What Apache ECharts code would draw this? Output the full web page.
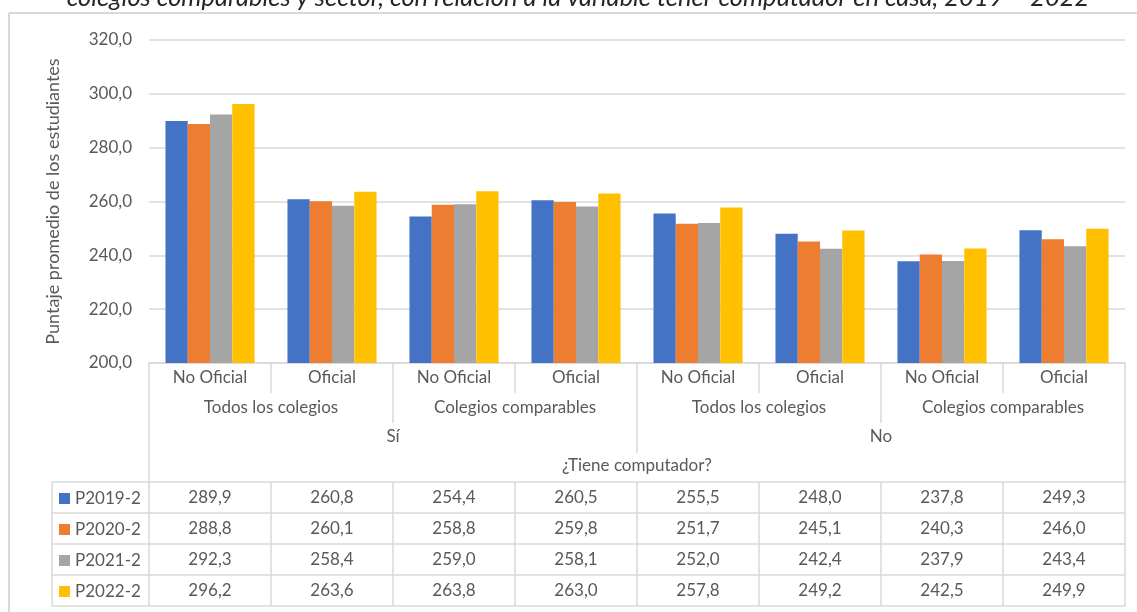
<!DOCTYPE html>
<html>
<head>
<meta charset="utf-8">
<script src="https://cdn.jsdelivr.net/npm/echarts@6/dist/echarts.min.js"></script>
<style>
  html, body { margin: 0; padding: 0; background: #ffffff; }
  #chart { width: 1137px; height: 612px; }
</style>
</head>
<body>
<div id="chart"></div>
<script>
// Hierarchical category labels (innermost first)
const sectors = ['No Oficial', 'Oficial', 'No Oficial', 'Oficial', 'No Oficial', 'Oficial', 'No Oficial', 'Oficial'];
const schoolGroups = ['Todos los colegios', 'Colegios comparables', 'Todos los colegios', 'Colegios comparables'];
const hasComputer = ['Sí', 'No'];
const outerLabel = ['¿Tiene computador?'];

// Series names and values
const seriesNames = ['P2019-2', 'P2020-2', 'P2021-2', 'P2022-2'];
const p2019 = [289.9, 260.8, 254.4, 260.5, 255.5, 248.0, 237.8, 249.3];
const p2020 = [288.8, 260.1, 258.8, 259.8, 251.7, 245.1, 240.3, 246.0];
const p2021 = [292.3, 258.4, 259.0, 258.1, 252.0, 242.4, 237.9, 243.4];
const p2022 = [296.2, 263.6, 263.8, 263.0, 257.8, 249.2, 242.5, 249.9];
const seriesValues = [p2019, p2020, p2021, p2022];
const colors = ['#4472C4', '#ED7D31', '#A5A5A5', '#FFC000'];

// Y axis ticks
const yMin = 200, yMax = 320, yStep = 20;

const titleText = 'colegios comparables y sector, con relación a la variable tener computador en casa, 2019 – 2022';
const yName = 'Puntaje promedio de los estudiantes';

const FONT = 'Lato';
const TXT = '#595959';
const LINE = '#d9d9d9';
const FS = 17;

const fmt = v => v.toFixed(1).replace('.', ',');

// Grid geometry
const gridLeft = 149, gridRight = 12, gridTop = 40, gridBottom = 249;

function levelAxis(data, offset, tickLen, margin, showLine) {
  return {
    type: 'category',
    gridIndex: 0,
    position: 'bottom',
    offset: offset,
    data: data,
    boundaryGap: true,
    axisLine: { show: showLine, lineStyle: { color: LINE, width: 1.5 } },
    axisTick: { show: true, interval: 0, length: tickLen, lineStyle: { color: LINE, width: 1.5 } },
    axisLabel: {
      interval: 0, margin: margin, color: TXT, fontFamily: FONT, fontSize: FS, lineHeight: 20
    },
    splitLine: { show: false }
  };
}

const xAxes = [
  levelAxis(sectors, 0, 30, 5, true),
  levelAxis(schoolGroups, 30, 30, 4.5, false),
  levelAxis(hasComputer, 60, 30, 4, false),
  levelAxis(outerLabel, 90, 29, 3, false)
];
// Data table rows under the axis, one category axis per series
const tableOffsets = [119, 150, 181, 212];
seriesValues.forEach((vals, i) => {
  xAxes.push(levelAxis(vals.map(fmt), tableOffsets[i], 31, 5.5, true));
});
// Closing line of the table
xAxes.push({
  type: 'category', gridIndex: 0, position: 'bottom', offset: 243,
  data: sectors, axisLine: { show: true, lineStyle: { color: LINE, width: 1.5 } },
  axisTick: { show: false }, axisLabel: { show: false }
});

const chart = echarts.init(document.getElementById('chart'), null, { renderer: 'canvas' });

const tableLeft = 52, tableRows = [482, 513, 544, 575, 606];
const graphics = [
  // chart frame
  { type: 'line', shape: { x1: 9, y1: 13, x2: 1137, y2: 13 }, style: { stroke: LINE, lineWidth: 2 } },
  { type: 'line', shape: { x1: 9, y1: 13, x2: 9, y2: 612 }, style: { stroke: LINE, lineWidth: 2 } },
  // legend column of the data table
  { type: 'line', shape: { x1: tableLeft, y1: tableRows[0], x2: tableLeft, y2: tableRows[4] }, style: { stroke: LINE, lineWidth: 1.5 } },
  // title (partially above the canvas)
  {
    type: 'text', x: 578, y: -2,
    style: {
      text: titleText, fill: '#262626', font: 'italic 25.5px Lato',
      textAlign: 'center', textVerticalAlign: 'middle'
    }
  }
];
tableRows.forEach(y => {
  graphics.push({ type: 'line', shape: { x1: tableLeft, y1: y, x2: gridLeft, y2: y }, style: { stroke: LINE, lineWidth: 1.5 } });
});

chart.setOption({
  animation: false,
  backgroundColor: '#ffffff',
  color: colors,
  textStyle: { fontFamily: FONT },
  grid: { left: gridLeft, right: gridRight, top: gridTop, bottom: gridBottom, containLabel: false },
  legend: {
    orient: 'vertical',
    left: 59, top: 490,
    padding: 0,
    itemWidth: 11, itemHeight: 11, itemGap: 14,
    icon: 'rect',
    textStyle: { color: TXT, fontFamily: FONT, fontSize: FS, padding: [0, 0, 8, 0] },
    selectedMode: false,
    data: seriesNames
  },
  xAxis: xAxes,
  yAxis: {
    type: 'value',
    min: yMin, max: yMax, interval: yStep,
    name: yName,
    nameLocation: 'middle',
    nameGap: 87,
    nameRotate: 90,
    nameTextStyle: { color: TXT, fontFamily: FONT, fontSize: 18 },
    axisLine: { show: false },
    axisTick: { show: false },
    axisLabel: { color: TXT, fontFamily: FONT, fontSize: FS, margin: 17, formatter: v => fmt(v) },
    splitLine: { lineStyle: { color: LINE, width: 1.5 } }
  },
  series: seriesNames.map((name, i) => ({
    name: name,
    type: 'bar',
    xAxisIndex: 0,
    data: seriesValues[i],
    barGap: '0%',
    barCategoryGap: '27%',
    itemStyle: { color: colors[i] }
  })),
  graphic: graphics
});
</script>
</body>
</html>
